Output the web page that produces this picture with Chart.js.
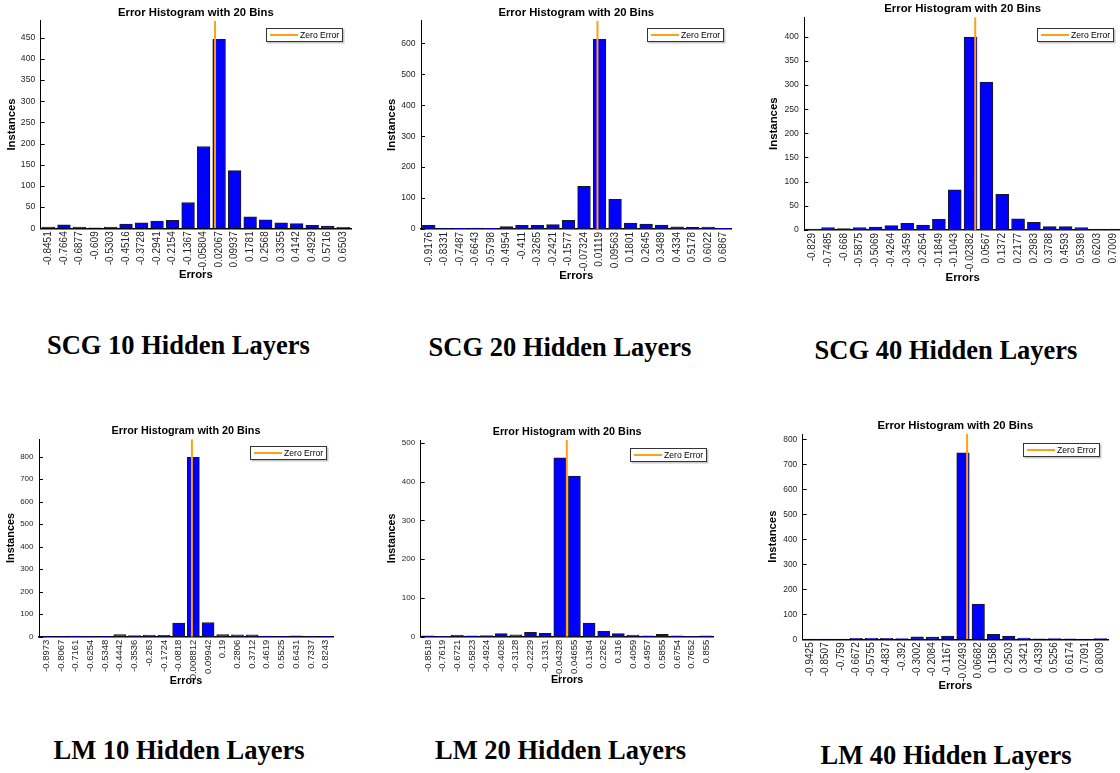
<!DOCTYPE html>
<html>
<head>
<meta charset="utf-8">
<title>Error Histograms</title>
<script src="https://cdn.jsdelivr.net/npm/chart.js@4.4.1/dist/chart.umd.min.js"></script>
<style>
    html, body { margin: 0; padding: 0; background: #fff; }
    body { width: 1120px; height: 773px; position: relative; overflow: hidden; }
    canvas { position: absolute; }
    .caption {
        position: absolute;
        width: 360px;
        text-align: center;
        font-family: "Liberation Serif", "Times New Roman", serif;
        font-weight: bold;
        font-size: 26.5px;
        line-height: 30px;
        color: #000;
        white-space: nowrap;
    }
</style>
</head>
<body>
<script>
// bin centres (tick labels) and counts
const scg10Labels = ["-0.8451", "-0.7664", "-0.6877", "-0.609", "-0.5303", "-0.4516", "-0.3728", "-0.2941", "-0.2154", "-0.1367", "-0.05804", "0.02067", "0.09937", "0.1781", "0.2568", "0.3355", "0.4142", "0.4929", "0.5716", "0.6503"];
const scg10Counts = [3, 8, 3, 1, 3, 10, 13, 17, 19, 61, 193, 446, 136, 27, 20, 13, 11, 7, 5, 2];

const scg20Labels = ["-0.9176", "-0.8331", "-0.7487", "-0.6643", "-0.5798", "-0.4954", "-0.411", "-0.3265", "-0.2421", "-0.1577", "-0.07324", "0.01119", "0.09563", "0.1801", "0.2645", "0.3489", "0.4334", "0.5178", "0.6022", "0.6867"];
const scg20Counts = [12, 1, 2, 3, 2, 8, 12, 12, 14, 28, 138, 613, 96, 19, 16, 13, 7, 5, 6, 2];

const scg40Labels = ["-0.829", "-0.7485", "-0.668", "-0.5875", "-0.5069", "-0.4264", "-0.3459", "-0.2654", "-0.1849", "-0.1043", "-0.02382", "0.0567", "0.1372", "0.2177", "0.2983", "0.3788", "0.4593", "0.5398", "0.6203", "0.7009"];
const scg40Counts = [2, 5, 3, 5, 6, 9, 14, 10, 22, 83, 399, 306, 74, 23, 16, 7, 7, 5, 2, 2];

const lm10Labels = ["-0.8973", "-0.8067", "-0.7161", "-0.6254", "-0.5348", "-0.4442", "-0.3536", "-0.263", "-0.1724", "-0.0818", "0.008812", "0.09942", "0.19", "0.2806", "0.3712", "0.4619", "0.5525", "0.6431", "0.7337", "0.8243"];
const lm10Counts = [1, 1, 3, 1, 1, 9, 5, 7, 6, 60, 797, 63, 9, 8, 8, 3, 1, 4, 2, 1];

const lm20Labels = ["-0.8518", "-0.7619", "-0.6721", "-0.5823", "-0.4924", "-0.4026", "-0.3128", "-0.2229", "-0.1331", "-0.04328", "0.04655", "0.1364", "0.2262", "0.316", "0.4059", "0.4957", "0.5855", "0.6754", "0.7652", "0.855"];
const lm20Counts = [2, 1, 4, 2, 3, 8, 5, 11, 9, 461, 414, 35, 14, 8, 4, 2, 6, 2, 1, 2];

const lm40Labels = ["-0.9425", "-0.8507", "-0.759", "-0.6672", "-0.5755", "-0.4837", "-0.392", "-0.3002", "-0.2084", "-0.1167", "-0.02493", "0.06682", "0.1586", "0.2503", "0.3421", "0.4339", "0.5256", "0.6174", "0.7091", "0.8009"];
const lm40Counts = [1, 1, 1, 4, 4, 4, 3, 10, 9, 13, 746, 141, 20, 13, 5, 2, 3, 2, 1, 3];

// y axis ticks and upper limits per panel
const scg10YTicks = [0, 50, 100, 150, 200, 250, 300, 350, 400, 450];
const scg20YTicks = [0, 100, 200, 300, 400, 500, 600];
const scg40YTicks = [0, 50, 100, 150, 200, 250, 300, 350, 400];
const lm10YTicks = [0, 100, 200, 300, 400, 500, 600, 700, 800];
const lm20YTicks = [0, 100, 200, 300, 400, 500];
const lm40YTicks = [0, 100, 200, 300, 400, 500, 600, 700, 800];
const yMaxes = [490, 673, 440, 877, 507, 821];

const captions = ["SCG 10 Hidden Layers", "SCG 20 Hidden Layers", "SCG 40 Hidden Layers",
                  "LM 10 Hidden Layers", "LM 20 Hidden Layers", "LM 40 Hidden Layers"];

const chartTitle = "Error Histogram with 20 Bins";
const zeroLabel = "Zero Error";

const SANS = "'Liberation Sans', Arial, sans-serif";
const BAR_BLUE = "#0000FF";
const ZERO_ORANGE = "#FF9F1A";

// page layout (pixel positions of each panel)
const panels = [
    { left: 0,   top: 0,   width: 360, plotL: 40.7,  plotT: 20.7,  plotR: 351,    plotB: 228.3, titleY: 13,    yTitleX: 11.7,  xTitleY: 275,   fs: 11.3, tickFs: 10,  yTickFs: 8.6, legRight: 8,   legTop: 7.5, capX: 178.4, capY: 344.7 },
    { left: 375, top: 0,   width: 365, plotL: 421,   plotT: 20.7,  plotR: 731.5,  plotB: 229,   titleY: 12.7,  yTitleX: 392.3, xTitleY: 276,   fs: 11.3, tickFs: 10,  yTickFs: 8.6, legRight: 7.5, legTop: 7.5, capX: 560,   capY: 347 },
    { left: 760, top: 0,   width: 370, plotL: 804.3, plotT: 17.3,  plotR: 1121,   plotB: 230,   titleY: 9,     yTitleX: 774,   xTitleY: 278,   fs: 11.4, tickFs: 10,  yTickFs: 8.6, legRight: 7,   legTop: 10.5, capX: 946,  capY: 350 },
    { left: 0,   top: 420, width: 345, plotL: 39,    plotT: 439.3, plotR: 333,    plotB: 636.7, titleY: 431,   yTitleX: 10.7,  xTitleY: 680.7, fs: 10.8, tickFs: 9.5, yTickFs: 8,   legRight: 6,   legTop: 6.7, capX: 179,   capY: 750 },
    { left: 375, top: 420, width: 350, plotL: 420.7, plotT: 440,   plotR: 713.5,  plotB: 636.7, titleY: 432,   yTitleX: 392.3, xTitleY: 680,   fs: 10.8, tickFs: 9.5, yTickFs: 8,   legRight: 6.5, legTop: 8,   capX: 560.5, capY: 750 },
    { left: 760, top: 410, width: 360, plotL: 802.7, plotT: 434,   plotR: 1108,   plotB: 639.3, titleY: 425.7, yTitleX: 773.3, xTitleY: 686,   fs: 11.3, tickFs: 10,  yTickFs: 8.4, legRight: 8,   legTop: 9,   capX: 946,   capY: 755 },
];

// boxed legend drawn inside the plot area, top right (like MATLAB)
const zeroLegend = {
    id: "zeroLegend",
    afterDatasetsDraw(chart, args, opts) {
        const { ctx, chartArea } = chart;
        const ds = chart.data.datasets.find((d) => d.type === "line");
        if (!ds) return;
        const w = 77, h = 14;
        const x = Math.round(chartArea.right - opts.right - w);
        const y = Math.round(chartArea.top + opts.top);
        ctx.save();
        ctx.fillStyle = "#c8c8c8";
        ctx.fillRect(x + 1.5, y + 1.5, w, h);
        ctx.fillStyle = "#fff";
        ctx.fillRect(x, y, w, h);
        ctx.strokeStyle = "#333";
        ctx.lineWidth = 1;
        ctx.strokeRect(x + 0.5, y + 0.5, w - 1, h - 1);
        ctx.strokeStyle = ds.borderColor;
        ctx.lineWidth = 2;
        ctx.beginPath();
        ctx.moveTo(x + 4, y + h / 2);
        ctx.lineTo(x + 32, y + h / 2);
        ctx.stroke();
        ctx.fillStyle = "#000";
        ctx.font = "8.6px " + SANS;
        ctx.textBaseline = "middle";
        ctx.fillText(ds.label, x + 34, y + h / 2 + 0.5);
        ctx.restore();
    },
};

// small tick marks pointing into the plot on the y axis
const inwardTicks = {
    id: "inwardTicks",
    afterDatasetsDraw(chart) {
        const { ctx, chartArea, scales } = chart;
        const yScale = scales.y;
        ctx.save();
        ctx.strokeStyle = "#000";
        ctx.lineWidth = 1;
        yScale.ticks.forEach((t) => {
            const py = Math.round(yScale.getPixelForValue(t.value)) + 0.5;
            ctx.beginPath();
            ctx.moveTo(chartArea.left, py);
            ctx.lineTo(chartArea.left + 4, py);
            ctx.stroke();
        });
        ctx.restore();
    },
};

function makeHistogram(idx, labels, counts, yTicks) {
    const g = panels[idx];
    const yMax = yMaxes[idx];
    const height = Math.round(g.xTitleY - g.top + 10);

    const canvas = document.createElement("canvas");
    canvas.width = g.width;
    canvas.height = height;
    canvas.style.left = g.left + "px";
    canvas.style.top = g.top + "px";
    document.body.appendChild(canvas);

    // hidden linear axis over the same span as the bins, for the zero line
    const centers = labels.map(Number);
    const binW = (centers[centers.length - 1] - centers[0]) / (centers.length - 1);
    const zMin = centers[0] - binW / 2;
    const zMax = centers[centers.length - 1] + binW / 2;

    const slot = (g.plotR - g.plotL) / labels.length;
    const lh = g.fs * 1.2;
    const titlePadTop = g.titleY - g.top - lh / 2;
    const titlePadBottom = g.plotT - g.top - titlePadTop - lh;

    new Chart(canvas, {
        type: "bar",
        data: {
            labels: labels,
            datasets: [
                {
                    type: "bar",
                    label: "Instances",
                    data: counts,
                    backgroundColor: BAR_BLUE,
                    borderColor: "#1a1a1a",
                    borderWidth: 1,
                    borderSkipped: false,
                    grouped: false,
                    barThickness: slot * 0.82,
                    xAxisID: "x",
                    yAxisID: "y",
                    order: 2,
                },
                {
                    type: "line",
                    label: zeroLabel,
                    data: [{ x: 0, y: 0 }, { x: 0, y: yMax }],
                    xAxisID: "xz",
                    yAxisID: "y",
                    borderColor: ZERO_ORANGE,
                    borderWidth: 2,
                    pointRadius: 0,
                    order: 1,
                },
            ],
        },
        options: {
            responsive: false,
            animation: false,
            devicePixelRatio: 1,
            layout: {
                padding: { left: 0, top: 0, bottom: 0, right: g.left + g.width - g.plotR },
            },
            scales: {
                x: {
                    type: "category",
                    offset: true,
                    grid: { display: false, drawTicks: false },
                    border: { display: true, color: "#000", width: 1.5 },
                    ticks: {
                        minRotation: 90,
                        maxRotation: 90,
                        autoSkip: false,
                        padding: 3,
                        color: "#262626",
                        font: { family: SANS, size: g.tickFs },
                    },
                    title: {
                        display: true,
                        text: "Errors",
                        color: "#000",
                        font: { family: SANS, size: g.fs, weight: "bold" },
                        padding: { top: 0, bottom: 10 - lh / 2 },
                    },
                    afterFit: (scale) => {
                        scale.height = g.top + height - g.plotB;
                    },
                },
                xz: { type: "linear", display: false, offset: false, min: zMin, max: zMax },
                y: {
                    min: 0,
                    max: yMax,
                    grid: { display: false, drawTicks: false },
                    border: { display: true, color: "#000", width: 1 },
                    ticks: {
                        padding: 5.5,
                        color: "#262626",
                        font: { family: SANS, size: g.yTickFs },
                    },
                    afterBuildTicks: (scale) => {
                        scale.ticks = yTicks.map((v) => ({ value: v }));
                    },
                    title: {
                        display: true,
                        text: "Instances",
                        color: "#000",
                        font: { family: SANS, size: g.fs, weight: "bold" },
                        padding: { top: g.yTitleX - g.left - lh / 2, bottom: 0 },
                    },
                    afterFit: (scale) => {
                        scale.width = g.plotL - g.left;
                    },
                },
            },
            plugins: {
                legend: { display: false },
                tooltip: { enabled: false },
                title: {
                    display: true,
                    text: chartTitle,
                    fullSize: false,
                    color: "#000",
                    font: { family: SANS, size: g.fs, weight: "bold" },
                    padding: { top: titlePadTop, bottom: titlePadBottom },
                },
                zeroLegend: { right: g.legRight, top: g.legTop },
            },
        },
        plugins: [inwardTicks, zeroLegend],
    });

    const cap = document.createElement("div");
    cap.className = "caption";
    cap.textContent = captions[idx];
    cap.style.left = (g.capX - 180) + "px";
    cap.style.top = (g.capY - 15.2) + "px";
    document.body.appendChild(cap);
}

makeHistogram(0, scg10Labels, scg10Counts, scg10YTicks);
makeHistogram(1, scg20Labels, scg20Counts, scg20YTicks);
makeHistogram(2, scg40Labels, scg40Counts, scg40YTicks);
makeHistogram(3, lm10Labels, lm10Counts, lm10YTicks);
makeHistogram(4, lm20Labels, lm20Counts, lm20YTicks);
makeHistogram(5, lm40Labels, lm40Counts, lm40YTicks);
</script>
</body>
</html>
